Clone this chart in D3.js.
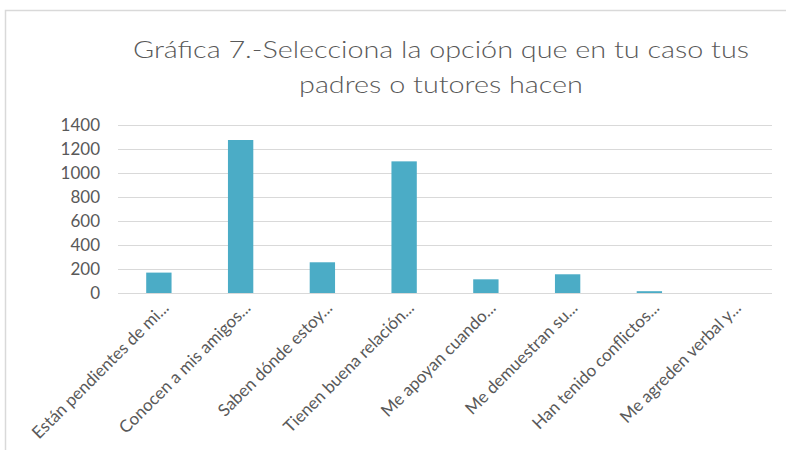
<!DOCTYPE html>
<html>
<head>
<meta charset="utf-8">
<script src="https://cdn.jsdelivr.net/npm/d3@7"></script>
<style>
  body { margin: 0; background: #fff; }
  text { font-family: Lato, "Open Sans", sans-serif; fill: #595959; }
</style>
</head>
<body>
<div id="container"></div>
<script>
var categories = [
    "Están pendientes de mi...",
    "Conocen a mis amigos...",
    "Saben dónde estoy...",
    "Tienen buena relación...",
    "Me apoyan cuando...",
    "Me demuestran su...",
    "Han tenido conflictos...",
    "Me agreden verbal y..."
];
var values = [170, 1275, 256, 1097, 114, 156, 15, 0];
var yTicks = [0, 200, 400, 600, 800, 1000, 1200, 1400];
var titleLines = ["Gráfica 7.-Selecciona la opción que en tu caso tus", "padres o tutores hacen"];

var W = 786, H = 457;
var margin = {top: 125, right: 14, bottom: 164, left: 118},
    width = W - margin.left - margin.right,
    height = H - margin.top - margin.bottom;

function drawChart() {
    var root = d3.select("#container")
      .append("svg")
        .attr("width", W)
        .attr("height", H);

    // chart frame (only top and left edges are inside the picture)
    root.append("path")
        .attr("d", "M5.5,450V10.5H786")
        .attr("fill", "none")
        .attr("stroke", "#d9d9d9")
        .attr("stroke-width", 1.5);

    root.selectAll(".title")
        .data(titleLines)
        .enter()
        .append("text")
        .attr("class", "title")
        .attr("transform", function(d, i) {
            return "translate(441," + (58 + i * 35) + ") scale(1.2,1)";
        })
        .attr("text-anchor", "middle")
        .style("font-size", "24px")
        .style("font-weight", 300)
        .text(function(d) { return d; });

    var svg = root.append("g")
        .attr("transform", "translate(" + margin.left + "," + margin.top + ")");

    var x = d3.scaleBand()
        .domain(categories)
        .range([0, width])
        .paddingInner(0.69)
        .paddingOuter(0.345);

    var y = d3.scaleLinear()
        .domain([0, 1400])
        .range([height, 0]);

    // gridlines
    svg.selectAll(".grid")
        .data(yTicks)
        .enter()
        .append("line")
        .attr("x1", 0).attr("x2", width)
        .attr("y1", function(d) { return Math.round(y(d)) + 0.5; })
        .attr("y2", function(d) { return Math.round(y(d)) + 0.5; })
        .attr("stroke", "#d9d9d9")
        .attr("stroke-width", 1.2);

    var yAxis = svg.append("g")
        .call(d3.axisLeft(y).tickValues(yTicks).tickFormat(d3.format("d"))
            .tickSize(0).tickPadding(18));
    yAxis.select(".domain").remove();
    yAxis.selectAll("text")
        .style("font-size", "17px")
        .attr("fill", "#595959");

    svg.selectAll(".bar")
        .data(values)
        .enter()
        .append("rect")
        .attr("class", "bar")
        .attr("x", function(d, i) { return x(categories[i]); })
        .attr("y", function(d) { return y(d); })
        .attr("width", x.bandwidth())
        .attr("height", function(d) { return height - y(d); })
        .attr("fill", "#4bacc6");

    var xAxis = svg.append("g")
        .attr("transform", "translate(0," + height + ")")
        .call(d3.axisBottom(x).tickSize(0).tickPadding(0));
    xAxis.select(".domain").remove();
    xAxis.selectAll("text")
        .style("font-size", "17px")
        .attr("fill", "#595959")
        .attr("text-anchor", "end")
        .attr("dy", 0)
        .attr("transform", "translate(11,16) rotate(-45)");
}

drawChart();
</script>
</body>
</html>
